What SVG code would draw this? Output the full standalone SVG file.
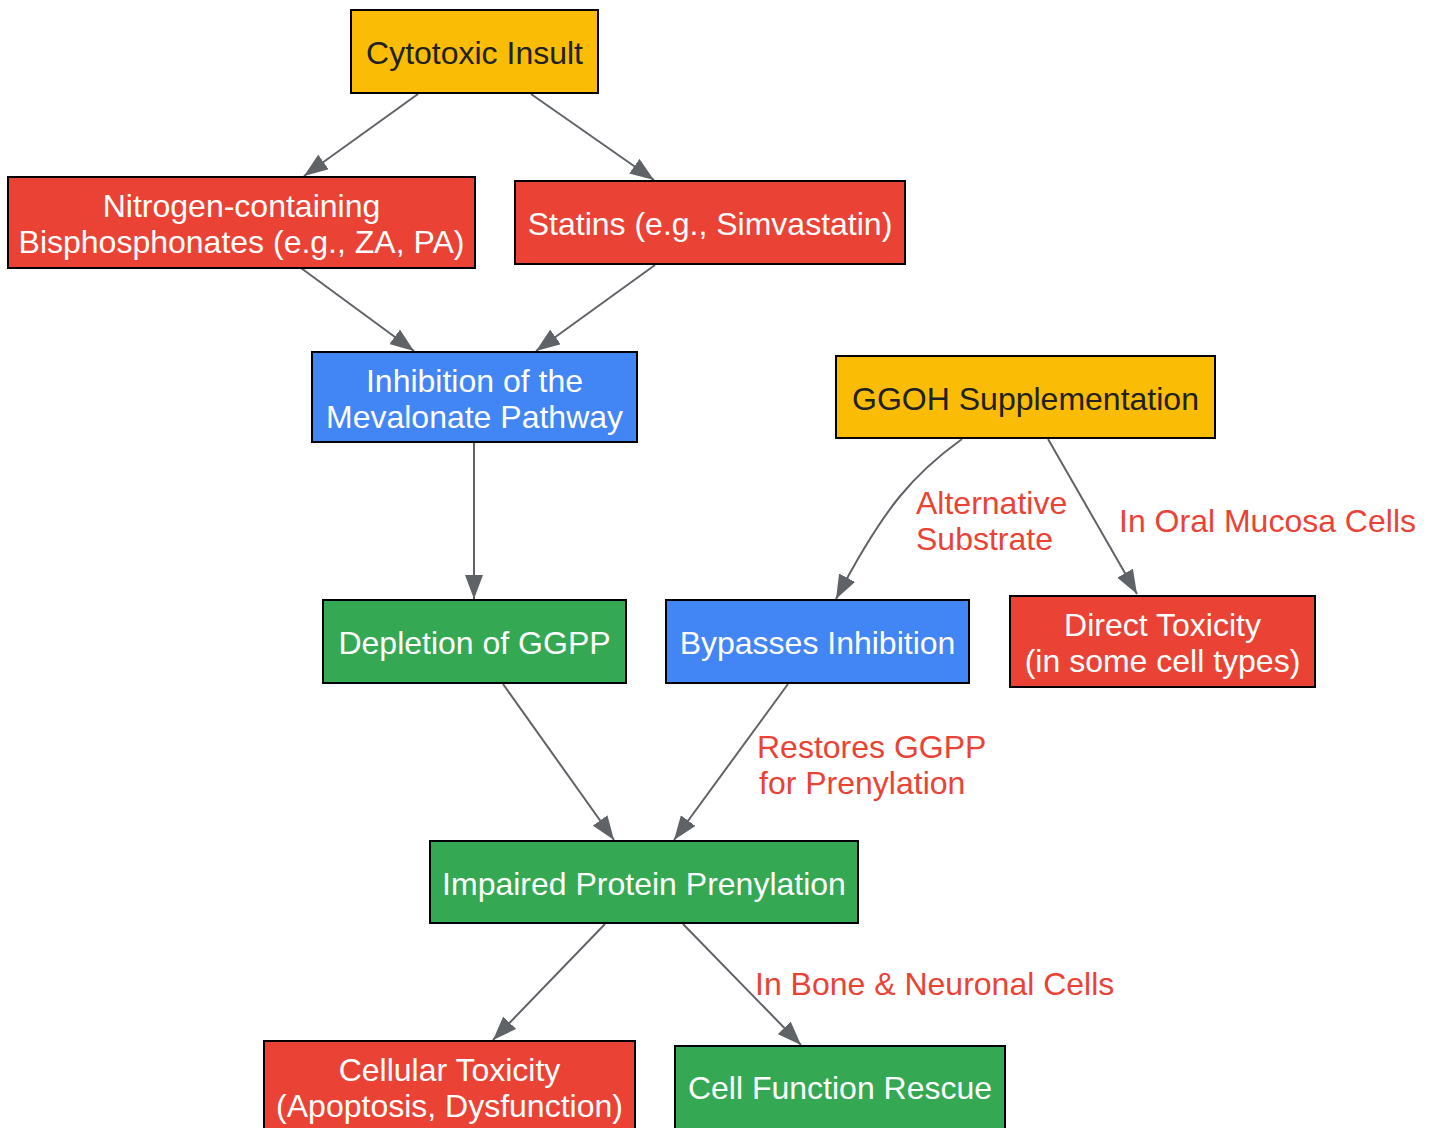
<svg xmlns="http://www.w3.org/2000/svg" width="1434" height="1128" viewBox="0 0 1434 1128">
<defs>
<marker id="arr" markerUnits="userSpaceOnUse" markerWidth="24" markerHeight="18" viewBox="0 0 24 18" refX="24" refY="9" orient="auto">
<path d="M0,0 L24,9 L0,18 z" fill="#5F6368"/>
</marker>
<style>
.n rect{stroke:#000;stroke-width:2}
.y{fill:#FBBC05}.r{fill:#EA4335}.b{fill:#4285F4}.g{fill:#34A853}
text{font-family:"Liberation Sans",Arial,sans-serif;font-size:32px;text-anchor:middle}
.w{fill:#fff}.d{fill:#202124}
.lbl{fill:#EA4335;text-anchor:start}
.e{fill:none;stroke:#5F6368;stroke-width:2;marker-end:url(#arr)}
</style>
</defs>
<rect width="1434" height="1128" fill="#fff"/>
<g id="edges">
<path class="e" d="M418,94 L304,176"/>
<path class="e" d="M531,94 L654,180"/>
<path class="e" d="M301,268 L414,351"/>
<path class="e" d="M655,265 L536,351"/>
<path class="e" d="M474,443 L474,599"/>
<path class="e" d="M962,439 C915,473 885,505 836,599"/>
<path class="e" d="M1048,439 L1137,594"/>
<path class="e" d="M503,684 L614,840"/>
<path class="e" d="M788,684 L674,840"/>
<path class="e" d="M605,924 L493,1040"/>
<path class="e" d="M683,924 L801,1045"/>
<text class="lbl" x="916" y="514">Alternative</text>
<text class="lbl" x="916" y="550">Substrate</text>
<text class="lbl" x="1119" y="532">In Oral Mucosa Cells</text>
<text class="lbl" x="757" y="758">Restores GGPP</text>
<text class="lbl" x="759" y="794">for Prenylation</text>
<text class="lbl" x="755" y="995">In Bone &amp; Neuronal Cells</text>
</g>
<g id="n_cytotoxic" class="n"><rect class="y" x="351" y="10" width="247" height="83"/><text class="d" x="474.5" y="64">Cytotoxic Insult</text></g>
<g id="n_nbp" class="n"><rect class="r" x="8" y="177" width="467" height="91"/><text class="w" x="241.5" y="217">Nitrogen-containing</text><text class="w" x="241.5" y="253">Bisphosphonates (e.g., ZA, PA)</text></g>
<g id="n_statins" class="n"><rect class="r" x="515" y="181" width="390" height="83"/><text class="w" x="710" y="235">Statins (e.g., Simvastatin)</text></g>
<g id="n_inhib" class="n"><rect class="b" x="312" y="352" width="325" height="90"/><text class="w" x="474.5" y="392">Inhibition of the</text><text class="w" x="474.5" y="428">Mevalonate Pathway</text></g>
<g id="n_ggoh" class="n"><rect class="y" x="836" y="356" width="379" height="82"/><text class="d" x="1025.5" y="410">GGOH Supplementation</text></g>
<g id="n_depl" class="n"><rect class="g" x="323" y="600" width="303" height="83"/><text class="w" x="474.5" y="654">Depletion of GGPP</text></g>
<g id="n_bypass" class="n"><rect class="b" x="666" y="600" width="303" height="83"/><text class="w" x="817.5" y="654">Bypasses Inhibition</text></g>
<g id="n_direct" class="n"><rect class="r" x="1010" y="596" width="305" height="91"/><text class="w" x="1162.5" y="636">Direct Toxicity</text><text class="w" x="1162.5" y="672">(in some cell types)</text></g>
<g id="n_impaired" class="n"><rect class="g" x="430" y="841" width="428" height="82"/><text class="w" x="644" y="895">Impaired Protein Prenylation</text></g>
<g id="n_celltox" class="n"><rect class="r" x="264" y="1041" width="371" height="91"/><text class="w" x="449.5" y="1081">Cellular Toxicity</text><text class="w" x="449.5" y="1117">(Apoptosis, Dysfunction)</text></g>
<g id="n_rescue" class="n"><rect class="g" x="675" y="1046" width="330" height="84"/><text class="w" x="840" y="1099">Cell Function Rescue</text></g>
</svg>
